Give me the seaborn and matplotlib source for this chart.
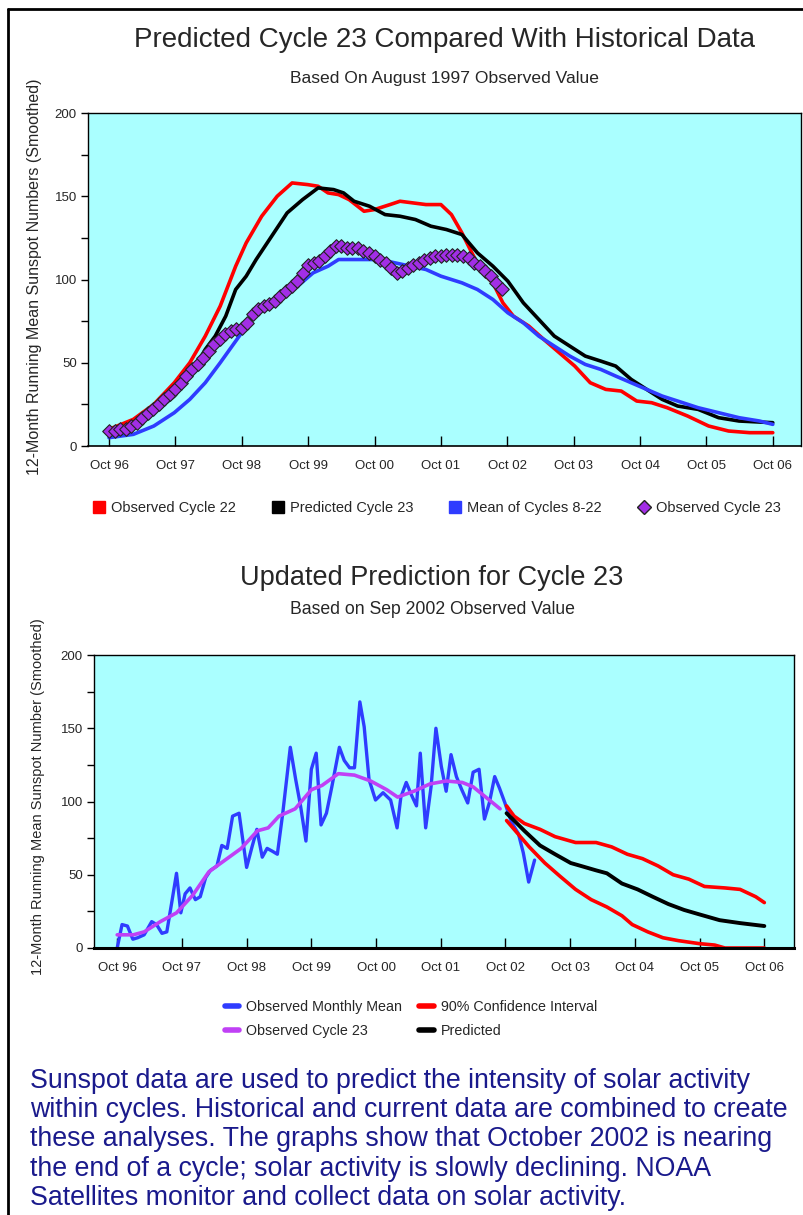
import numpy as np
import pandas as pd
import matplotlib
matplotlib.use("Agg")
import matplotlib.pyplot as plt
import seaborn as sns
from matplotlib.lines import Line2D

# months counted from Oct 1996
tick_months = [0, 12, 24, 36, 48, 60, 72, 84, 96, 108, 120]
tick_labels = ['Oct 96', 'Oct 97', 'Oct 98', 'Oct 99', 'Oct 00', 'Oct 01',
               'Oct 02', 'Oct 03', 'Oct 04', 'Oct 05', 'Oct 06']

# --- top chart ---
c22_m = [0, 4.4, 8.1, 11.8, 14.6, 17.4, 20.1, 22.9, 24.8, 27.6, 30.4, 33.1, 35.9, 37.8,
         39.6, 41.5, 43.4, 46.1, 48, 50.8, 52.6, 57.3, 60, 61.9, 63.8, 65.6, 67.5, 69.4,
         71.2, 73.1, 75.9, 78.6, 81.4, 84.2, 87, 89.8, 92.6, 95.4, 98.1, 100.9, 104.6,
         108.4, 112, 115.8, 120]
c22_v = [10, 16, 25, 38, 50, 66, 84, 108, 122, 138, 150, 158, 157, 156,
         152, 151, 148, 141, 142, 145, 147, 145, 145, 139, 128, 116, 104, 98,
         86, 78, 72, 64, 56, 48, 38, 34, 33, 27, 26, 23, 18,
         12, 9, 8, 8]

pred_m = [0, 4.4, 8.1, 11.8, 14.6, 17.4, 19.2, 21.1, 22.9, 24.8, 26.6, 29.4, 32.2, 35,
          37.8, 40.6, 42.4, 44.3, 47.1, 49.9, 52.6, 55.4, 58.2, 61, 63.8, 66.6, 69.4,
          72.1, 74.9, 77.7, 80.5, 83.3, 86.1, 88.9, 91.6, 94.4, 97.2, 100, 102.8, 106.5,
          110.2, 113.9, 120]
pred_v = [8, 12, 20, 30, 42, 58, 66, 78, 94, 102, 112, 126, 140, 148,
          155, 154, 152, 147, 144, 139, 138, 136, 132, 130, 127, 116, 108,
          99, 86, 76, 66, 60, 54, 51, 48, 40, 34, 28, 24, 22,
          17, 15, 14]

mean_m = [0, 4.4, 8.1, 11.8, 14.6, 17.4, 20.1, 22.9, 25.7, 28.5, 31.3, 34.1, 36.9, 39.6,
          41.5, 45.2, 49, 51.7, 54.5, 57.3, 60, 63.8, 66.6, 69.4, 72.1, 74.9, 77.7,
          80.5, 83.3, 86.1, 88.9, 91.6, 94.4, 97.2, 100, 102.8, 106.5, 110.2, 113.9,
          117.6, 120]
mean_v = [5, 7, 12, 20, 28, 38, 50, 63, 76, 84, 90, 96, 104, 108,
          112, 112, 112, 110, 108, 106, 102, 98, 94, 88, 80, 74, 66,
          60, 54, 49, 46, 42, 38, 34, 30, 27, 23, 20, 17,
          15, 13]

c23_top = [9, 9, 10, 10, 12, 14, 17, 20, 22, 25, 28, 31, 34, 38, 42, 46, 49, 53, 57, 61,
           64, 67, 69, 70, 71, 74, 79, 82, 84, 85, 87, 90, 93, 96, 99, 104, 109, 110, 111,
           114, 117, 120, 120, 119, 119, 119, 117, 116, 114, 112, 110, 107, 104, 105, 107,
           109, 110, 112, 113, 114, 114, 115, 115, 115, 114, 113, 110, 108, 105, 102, 98, 94]

# --- bottom chart ---
monthly_m = [0, 0.9, 1.9, 2.9, 3.8, 5, 6.4, 7.3, 8.3, 9.2, 10.2, 11, 11.8, 12.6, 13.5,
             14.5, 15.4, 16.4, 17.3, 18.5, 19.4, 20.4, 21.4, 22.6, 24, 25, 25.9, 26.9,
             27.8, 28.8, 29.7, 30.7, 32.1, 33.1, 34, 35, 36, 36.9, 37.8, 38.8, 39.8,
             41.2, 42.1, 43.1, 44, 45, 45.8, 46.7, 47.9, 49.3, 50.7, 51.9, 52.6, 53.6,
             54.5, 55.5, 56.2, 57.2, 58.2, 59.1, 60.1, 61, 61.9, 62.9, 63.9, 65, 66,
             67.1, 68.1, 69, 70, 70.9, 71.9, 73.1, 74.4, 75.3, 76.3, 77.4]
monthly_v = [0, 16, 15, 6, 7, 9, 18, 16, 10, 11, 33, 51, 24, 37, 41,
             33, 35, 48, 53, 56, 70, 68, 90, 92, 55, 69, 81, 62,
             68, 66, 64, 92, 137, 115, 97, 73, 122, 133, 84, 92, 110,
             137, 128, 123, 123, 168, 151, 115, 101, 106, 101, 82, 103, 113,
             105, 97, 133, 82, 110, 150, 124, 107, 132, 117, 108, 99, 120,
             122, 88, 99, 117, 109, 99, 86, 78, 65, 45, 60]

c23_m = [0, 3, 5, 8, 11, 14, 17, 20, 23, 26, 28, 30, 33, 36, 38, 41, 44, 47, 50, 52,
         55, 58, 61, 64, 66, 68, 71]
c23_v = [9, 9, 11, 18, 24, 36, 52, 60, 68, 80, 82, 90, 95, 108, 111, 119, 118, 114,
         108, 103, 107, 112, 114, 113, 110, 104, 95]

ci_hi_m = [72.2, 73.6, 75.5, 78.4, 81.2, 85, 88.8, 91.7, 94.6, 97.4, 100.3, 103.1, 106,
           108.9, 112.7, 115.5, 118.4, 120]
ci_hi_v = [97, 90, 85, 81, 76, 72, 72, 69, 64, 61, 56, 50, 47, 42, 41, 40, 35, 31]
ci_lo_m = [72.2, 73.6, 76.4, 79.3, 82.1, 85, 87.9, 90.8, 93.6, 95.5, 98.4, 101.2, 104.1,
           107.9, 110.8, 112.7, 120]
ci_lo_v = [87, 81, 69, 58, 49, 40, 33, 28, 22, 16, 11, 7, 5, 3, 2, 0, 0]
pr_m = [72.2, 73.6, 75.5, 78.4, 81.2, 84.1, 86, 88.8, 90.8, 93.6, 96.5, 99.3, 102.2,
        105.1, 107.9, 111.7, 115.5, 120]
pr_v = [92, 87, 80, 70, 64, 58, 56, 53, 51, 44, 40, 35, 30, 26, 23, 19, 17, 15]

para = ("Sunspot data are used to predict the intensity of solar activity\n"
        "within cycles. Historical and current data are combined to create\n"
        "these analyses. The graphs show that October 2002 is nearing\n"
        "the end of a cycle; solar activity is slowly declining. NOAA\n"
        "Satellites monitor and collect data on solar activity.")

RED, BLACK, BLUE, PURPLE = '#ff0000', '#000000', '#2f3cff', '#a22ee6'
BG = '#aaffff'

sns.set_theme(style='ticks')
plt.rcParams['font.family'] = ['Liberation Sans', 'DejaVu Sans']

W, H = 804, 1215
fig = plt.figure(figsize=(W / 100, H / 100), dpi=100)
fig.patch.set_facecolor('white')


def box(l, t, r, b):
    return [l / W, 1 - b / H, (r - l) / W, (b - t) / H]


def style_axes(ax, xlo, xhi):
    ax.set_facecolor(BG)
    ax.set_xlim(xlo, xhi)
    ax.set_ylim(0, 200)
    ax.set_xticks(tick_months)
    ax.set_xticklabels(tick_labels)
    ax.set_yticks([0, 50, 100, 150, 200])
    ax.set_yticks([25, 75, 125, 175], minor=True)
    ax.tick_params(axis='x', direction='in', length=7, width=1, pad=10,
                   labelsize=9.5, color='black')
    ax.tick_params(axis='y', which='both', direction='out', length=5, width=1,
                   pad=3, labelsize=9.5, color='black')
    for s in ax.spines.values():
        s.set_color('black')
        s.set_linewidth(1)
    ax.set_xlabel('')
    ax.set_ylabel('')


# ---------- top chart ----------
ax1 = fig.add_axes(box(88, 113, 801, 446))
sns.lineplot(x=c22_m, y=c22_v, ax=ax1, color=RED, lw=2.6)
sns.lineplot(x=pred_m, y=pred_v, ax=ax1, color=BLACK, lw=2.6)
sns.lineplot(x=mean_m, y=mean_v, ax=ax1, color=BLUE, lw=2.6)
sns.scatterplot(x=list(range(len(c23_top))), y=c23_top, ax=ax1, marker='D', s=48,
                color=PURPLE, edgecolor='#222222', linewidth=0.8, zorder=5)
style_axes(ax1, -3.8, 125.1)
ax1.spines['bottom'].set_linewidth(1.2)

fig.text(445 / W, 1 - 40 / H, 'Predicted Cycle 23 Compared With Historical Data',
         ha='center', va='center', fontsize=20)
fig.text(445 / W, 1 - 78 / H, 'Based On August 1997 Observed Value',
         ha='center', va='center', fontsize=12.6)
fig.text(35 / W, 1 - 277 / H, '12-Month Running Mean Sunspot Numbers (Smoothed)',
         rotation=90, ha='center', va='center', fontsize=11.5)

h_top = [Line2D([], [], marker='s', ls='none', color=RED, markersize=8),
         Line2D([], [], marker='s', ls='none', color=BLACK, markersize=8),
         Line2D([], [], marker='s', ls='none', color=BLUE, markersize=8),
         Line2D([], [], marker='D', ls='none', color=PURPLE, markeredgecolor='#222222',
                markersize=7)]
fig.legend(h_top, ['Observed Cycle 22', 'Predicted Cycle 23', 'Mean of Cycles 8-22',
                   'Observed Cycle 23'],
           loc='center', bbox_to_anchor=(437 / W, 1 - 508 / H), ncol=4, frameon=False,
           fontsize=10.5, handlelength=0.8, handletextpad=0.4, columnspacing=2.5)

# ---------- bottom chart ----------
ax2 = fig.add_axes(box(94, 655, 794, 948))
sns.lineplot(x=monthly_m, y=monthly_v, ax=ax2, color=BLUE, lw=2.4)
sns.lineplot(x=c23_m, y=c23_v, ax=ax2, color='#c040f5', lw=2.6)
sns.lineplot(x=ci_hi_m, y=ci_hi_v, ax=ax2, color=RED, lw=2.6)
sns.lineplot(x=ci_lo_m, y=ci_lo_v, ax=ax2, color=RED, lw=2.6)
sns.lineplot(x=pr_m, y=pr_v, ax=ax2, color=BLACK, lw=2.8)
style_axes(ax2, -4.3, 125.5)
ax2.spines['bottom'].set_linewidth(2.2)
for ln in ax2.lines:
    ln.set_clip_on(False)

fig.text(432 / W, 1 - 578 / H, 'Updated Prediction for Cycle 23',
         ha='center', va='center', fontsize=19.5)
fig.text(432 / W, 1 - 610 / H, 'Based on Sep 2002 Observed Value',
         ha='center', va='center', fontsize=12.7)
fig.text(38 / W, 1 - 975 / H, '12-Month Running Mean Sunspot Number (Smoothed)',
         rotation=90, ha='center', va='bottom', fontsize=10.5)

h_bot = [Line2D([], [], color=BLUE, lw=4),
         Line2D([], [], color='#c040f5', lw=4),
         Line2D([], [], color=RED, lw=4),
         Line2D([], [], color=BLACK, lw=4)]
fig.legend(h_bot, ['Observed Monthly Mean', 'Observed Cycle 23',
                   '90% Confidence Interval', 'Predicted'],
           loc='center', bbox_to_anchor=(411 / W, 1 - 1019 / H), ncol=2, frameon=False,
           fontsize=10.3, handlelength=1.0, handletextpad=0.5, columnspacing=1.2,
           labelspacing=0.75)

# paragraph
fig.text(30 / W, 1 - 1068 / H, para, ha='left', va='top', fontsize=19.3,
         color='#1a1a8c', linespacing=1.16)

# slide frame
fig.add_artist(Line2D([8 / W, 8 / W], [0, 1 - 9 / H], color='black', lw=2,
                      transform=fig.transFigure))
fig.add_artist(Line2D([8 / W, 1], [1 - 9 / H, 1 - 9 / H], color='black', lw=2,
                      transform=fig.transFigure))

fig.savefig('out.png', dpi=100)
